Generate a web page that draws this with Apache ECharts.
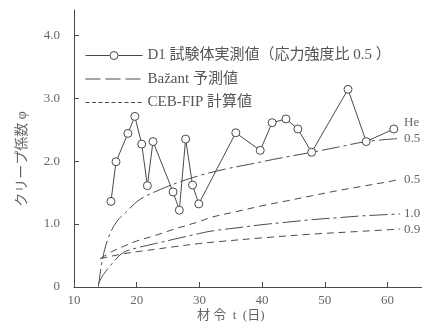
<!DOCTYPE html>
<html><head><meta charset="utf-8">
<script src="https://cdn.jsdelivr.net/npm/echarts@6/dist/echarts.min.js"></script>
<style>html,body{margin:0;padding:0;background:#fff}#c{width:422px;height:329px}</style>
</head><body><div id="c"></div>
<script>
// D1 measured creep coefficient (stress/strength ratio 0.5)
const d1Days = [15.9,16.7,18.6,19.7,20.8,21.7,22.6,25.8,26.8,27.8,28.9,29.9,35.8,39.7,41.6,43.8,45.7,47.9,53.7,56.6,61.0];
const d1Phi  = [1.36,1.99,2.44,2.71,2.27,1.61,2.31,1.51,1.22,2.35,1.62,1.32,2.45,2.17,2.61,2.67,2.51,2.14,3.14,2.31,2.51];
// Bažant prediction curves
const bazant05Days = [13.9,14.3,14.9,15.8,16.9,18.2,20.5,23.8,26.6,30,34,38,43,47.9,52,56.6,62];
const bazant05Phi  = [0,0.3,0.6,0.86,1.05,1.18,1.39,1.55,1.66,1.77,1.87,1.95,2.05,2.14,2.22,2.31,2.36];
const bazant10Days = [13.9,14.7,16.5,17.9,20,23,26,30,32,36,40,44,48,52,56,62];
const bazant10Phi  = [0.05,0.2,0.42,0.55,0.62,0.69,0.76,0.85,0.89,0.94,0.99,1.03,1.07,1.1,1.13,1.16];
// CEB-FIP calculated curves
const ceb05Days = [14.2,16,18,20,23,26,30,32,36,40,44,48,52,56,60,62];
const ceb05Phi  = [0.45,0.56,0.65,0.73,0.82,0.92,1.04,1.11,1.2,1.29,1.37,1.45,1.53,1.6,1.67,1.71];
const ceb09Days = [14.2,16,18,20,23,26,30,33,40,48,55,62];
const ceb09Phi  = [0.45,0.49,0.53,0.56,0.6,0.64,0.69,0.72,0.78,0.84,0.88,0.92];
// tick values and labels
const xTicks = [10,20,30,40,50,60];
const yTicks = [0,1,2,3,4];
const curveLabels = ['0.5','1.0','0.5','0.9'];
const legendNames = ['D1 試験体実測値（応力強度比 0.5 ）','Bažant 予測値','CEB-FIP 計算値'];

const zip = (a,b) => a.map((v,i) => [v,b[i]]);
const ink = '#4a4a4a';
const txt = '#666';
const serif = "'Liberation Serif','Noto Sans CJK JP',serif";
const bazDash = [18,4,3,4];
const cebDash = [7,5];
const clear = 'rgba(0,0,0,0)';

const chart = echarts.init(document.getElementById('c'), null, {renderer:'canvas'});
const curve = (name, data, dash, label) => ({
  name, type:'line', data, smooth:0.35, showSymbol:false, symbol:'none',
  lineStyle:{color:ink,width:1,type:dash}, itemStyle:{color:ink},
  endLabel:{show:true,formatter:label,color:txt,fontSize:13,fontFamily:serif,distance:4},
  animation:false, z:2
});
chart.setOption({
  animation:false,
  backgroundColor:'#fff',
  grid:{left:74,right:0,top:10,bottom:42,containLabel:false},
  xAxis:{type:'value',min:10,max:65.5,interval:10,
    axisLine:{lineStyle:{color:ink,width:1}},
    axisTick:{inside:true,length:5,customValues:xTicks,lineStyle:{color:ink}},
    axisLabel:{customValues:xTicks,color:txt,fontSize:13,fontFamily:serif,margin:7},
    splitLine:{show:false}},
  yAxis:{type:'value',min:0,max:4.4,interval:1,
    axisLine:{show:true,lineStyle:{color:ink,width:1}},
    axisTick:{show:true,inside:true,length:5,customValues:yTicks,lineStyle:{color:ink}},
    axisLabel:{customValues:yTicks,color:txt,fontSize:13,fontFamily:serif,margin:14,
      formatter:v => v===0 ? '0' : v.toFixed(1)},
    splitLine:{show:false}},
  legend:{orient:'vertical',left:80,top:43,itemWidth:57,itemHeight:10,itemGap:8.5,
    textStyle:{color:'#555',fontSize:15,fontFamily:serif},
    selectedMode:false,
    data:[
      {name:legendNames[0],lineStyle:{type:'solid',color:ink,width:1},itemStyle:{color:'#fff',borderColor:ink,borderWidth:1}},
      {name:legendNames[1],lineStyle:{type:[15,5],color:ink,width:1},itemStyle:{color:clear,borderColor:clear,borderWidth:0}},
      {name:legendNames[2],lineStyle:{type:[4,2.5],color:ink,width:1},itemStyle:{color:clear,borderColor:clear,borderWidth:0}}
    ]},
  graphic:[
    {type:'text',x:22,y:159,rotation:Math.PI/2,
      style:{text:'クリープ係数 φ',fill:txt,fontSize:14,fontFamily:serif,align:'center',verticalAlign:'middle'}},
    {type:'text',x:197,y:316,
      style:{text:'材 令  t  (日)',fill:txt,fontSize:13,fontFamily:serif,align:'left',verticalAlign:'middle'}},
    {type:'text',x:404,y:123,
      style:{text:'He',fill:txt,fontSize:13,fontFamily:serif,align:'left',verticalAlign:'middle'}}
  ],
  series:[
    curve(legendNames[1], zip(bazant05Days,bazant05Phi), bazDash, curveLabels[0]),
    curve(legendNames[1], zip(bazant10Days,bazant10Phi), bazDash, curveLabels[1]),
    curve(legendNames[2], zip(ceb05Days,ceb05Phi), cebDash, curveLabels[2]),
    curve(legendNames[2], zip(ceb09Days,ceb09Phi), cebDash, curveLabels[3]),
    {name:legendNames[0],type:'line',data:zip(d1Days,d1Phi),symbol:'circle',symbolSize:8,
      lineStyle:{color:ink,width:1},itemStyle:{color:'#fff',borderColor:ink,borderWidth:1},
      z:5,animation:false}
  ]
});
</script></body></html>
